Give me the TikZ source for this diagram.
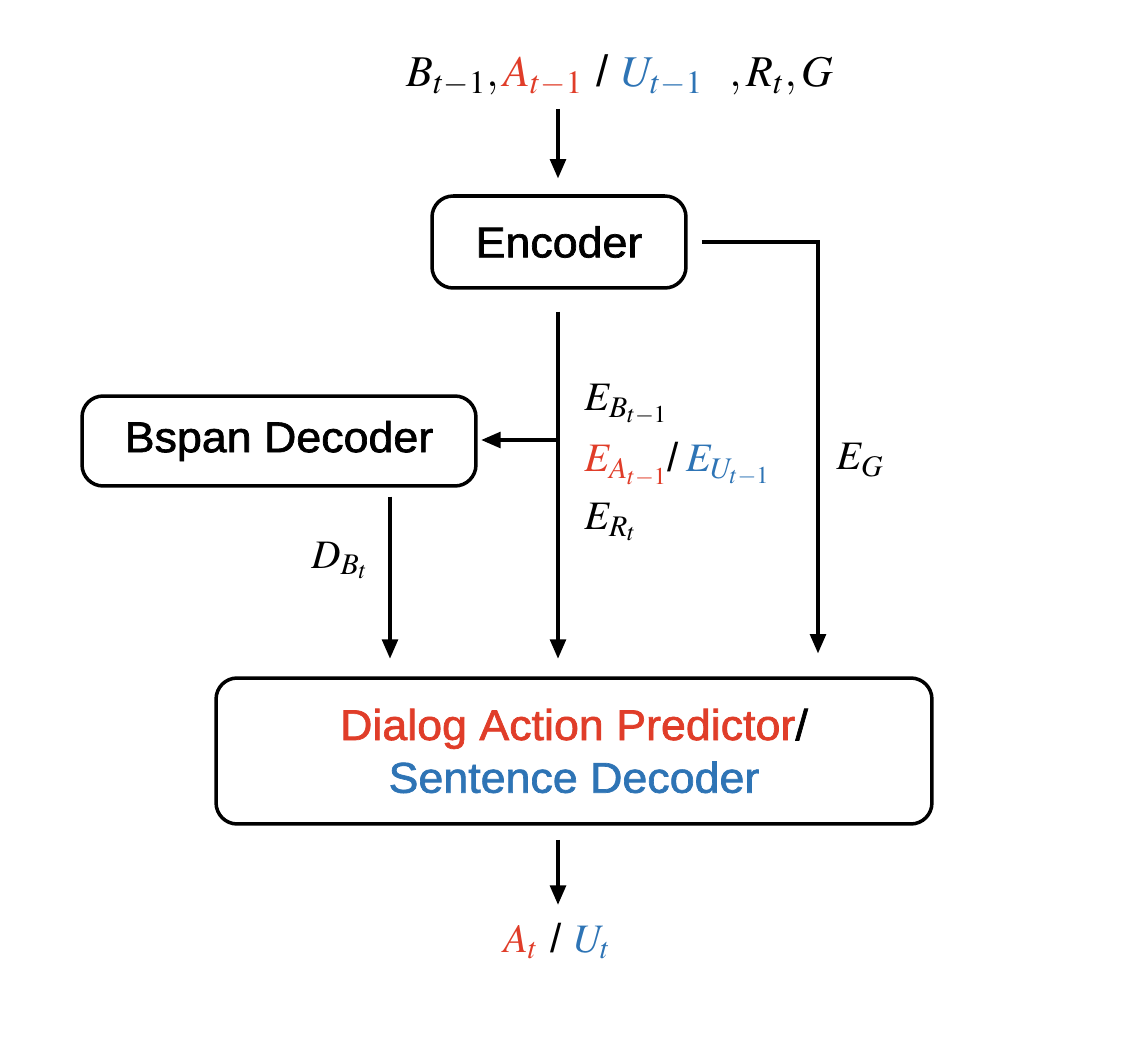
\documentclass[tikz,border=0pt]{standalone}
\usepackage{mathptmx}
\usepackage[no-math]{fontspec}
\setsansfont{Liberation Sans}
\newfontfamily\boxfont{Liberation Sans}[FakeStretch=1.04,FakeBold=1.6]
\usetikzlibrary{arrows.meta}
\definecolor{myred}{RGB}{224,61,41}
\definecolor{myblue}{RGB}{46,116,181}
\tikzset{
  box/.style={draw, line width=2pt, rounded corners=12pt, align=center,
    font=\boxfont\fontsize{24.5}{30}\selectfont, inner sep=0pt},
  conn/.style={line width=1.8pt, -{Triangle[length=11pt,width=9pt]}},
  lab/.style={font=\fontsize{23}{27}\selectfont, inner sep=0pt},
  toplab/.style={font=\fontsize{25}{29}\selectfont, inner sep=0pt},
}
\begin{document}
\begin{tikzpicture}[x=0.02cm,y=-0.02cm]
\useasboundingbox (0,0) rectangle (1140,1040);
% nodes
\node[toplab, anchor=base] (inp) at (620,87)
  {$B_{t-1},{\color{myred}A_{t-1}}$ \textsf{/} ${\color{myblue}U_{t-1}}$\ \ $,R_t,G$};
\node[box, minimum width=5.08cm, minimum height=1.84cm] (enc) at (559,242) {Encoder};
\node[box, minimum width=7.88cm, minimum height=1.8cm] (bsp) at (279,441) {Bspan Decoder};
\node[box, minimum width=14.32cm, minimum height=2.92cm] (big) at (574,751)
  {{\color{myred}Dialog Action Predictor}/\\{\color{myblue}Sentence Decoder}};
\node[lab, anchor=base] (out) at (557,952)
  {${\color{myred}A_t}$ \textsf{/} ${\color{myblue}U_t}$};
\node[lab, anchor=base west] (eb) at (584,411) {$E_{B_{t-1}}$};
\node[lab, anchor=base west] (eau) at (584,472)
  {${\color{myred}E_{A_{t-1}}}$\textsf{/}\,${\color{myblue}E_{U_{t-1}}}$};
\node[lab, anchor=base west] (er) at (584,530) {$E_{R_t}$};
\node[lab, anchor=base west] (eg) at (836,470) {$E_G$};
\node[lab, anchor=base west] (db) at (311,568) {$D_{B_t}$};
% helper coordinates
\coordinate (egx) at (818,0);
\coordinate (dbx) at (390,0);
\coordinate (midx) at (558,0);
\coordinate (br) at (558,440);
% connectors
\draw[conn, shorten <=7pt, shorten >=9pt] (inp.south -| midx) -- (midx |- enc.north);
\draw[conn, shorten <=8pt, shorten >=13pt] (enc.east) -| (egx |- big.north);
\draw[conn, shorten <=12.5pt, shorten >=10pt] (midx |- enc.south) -- (midx |- big.north);
\draw[conn, shorten >=2pt] (br) -- (br -| bsp.east);
\draw[conn, shorten <=5pt, shorten >=10pt] (dbx |- bsp.south) -- (dbx |- big.north);
\draw[conn, shorten <=8pt, shorten >=10pt] (midx |- big.south) -- (midx |- out.north);
\end{tikzpicture}
\end{document}
